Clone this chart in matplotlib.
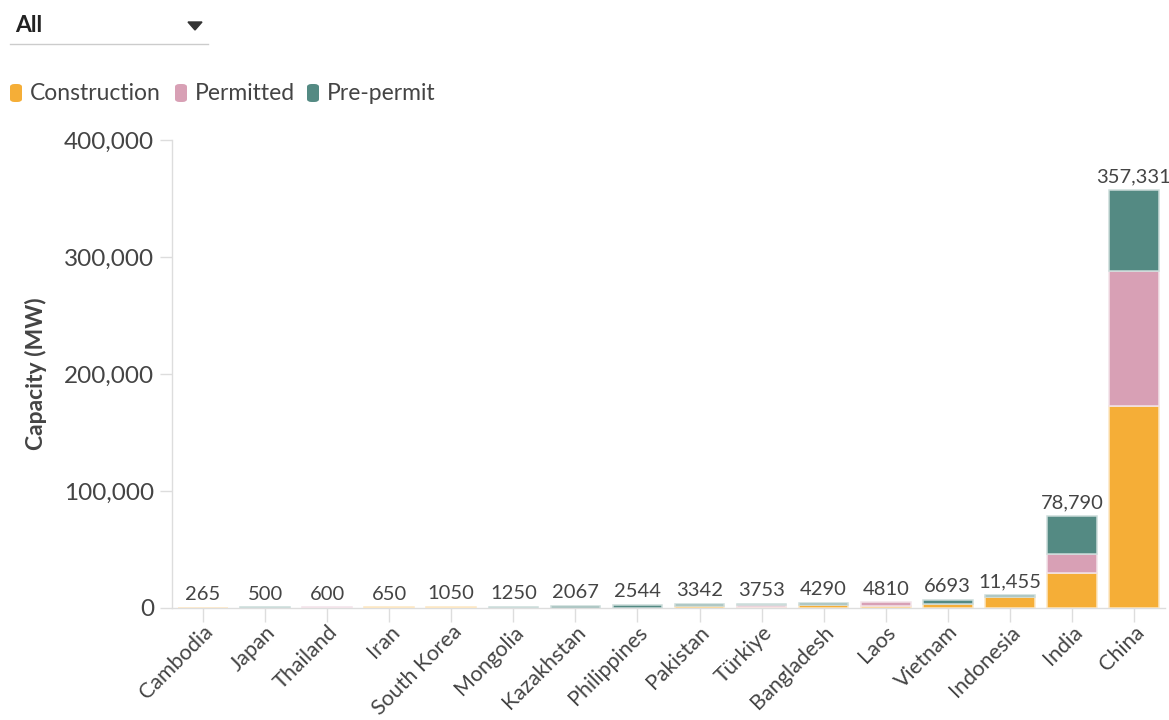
import matplotlib
matplotlib.use("Agg")
import matplotlib.pyplot as plt
from matplotlib.patches import FancyBboxPatch, Polygon
from matplotlib.ticker import FuncFormatter
from matplotlib.colors import to_rgb
import numpy as np

countries = ["Cambodia", "Japan", "Thailand", "Iran", "South Korea", "Mongolia",
             "Kazakhstan", "Philippines", "Pakistan", "Türkiye", "Bangladesh",
             "Laos", "Vietnam", "Indonesia", "India", "China"]
construction = [265, 0, 0, 650, 1050, 0, 0, 400, 1320, 600, 2640, 1400, 3000, 9100, 29600, 173000]
permitted = [0, 0, 600, 0, 0, 0, 0, 0, 0, 2000, 0, 3410, 0, 0, 16600, 115300]
prepermit = [0, 500, 0, 0, 0, 1250, 2067, 2144, 2022, 1153, 1650, 0, 3693, 2355, 32590, 69031]
totals = [265, 500, 600, 650, 1050, 1250, 2067, 2544, 3342, 3753, 4290, 4810, 6693, 11455, 78790, 357331]
series_names = ["Construction", "Permitted", "Pre-permit"]
y_ticks = [0, 100000, 200000, 300000, 400000]

colors = ["#F5AE37", "#D8A0B5", "#548A83"]
txt = "#444444"
grid = "#dddddd"
plt.rcParams['font.family'] = ['Lato', 'DejaVu Sans']


def tint(c, f=0.3):
    r = np.array(to_rgb(c))
    return tuple(r * f + (1 - f))


W, H = 1169, 720
fig = plt.figure(figsize=(W / 100, H / 100), dpi=100)
ax = fig.add_axes([172 / W, (H - 608) / H, (1165 - 172) / W, (608 - 140) / H])

x = np.arange(len(countries))
bottom = np.zeros(len(countries))
for vals, c, name in zip([construction, permitted, prepermit], colors, series_names):
    vals = np.array(vals, dtype=float)
    mask = vals > 0
    ax.bar(x[mask], vals[mask], bottom=bottom[mask], width=0.8, color=c,
           edgecolor=tint(c, 0.3), linewidth=1.1, label=name, zorder=3)
    bottom += vals

for xi, t in zip(x, totals):
    lab = f"{t:,}" if t >= 10000 else f"{t}"
    ax.text(xi, t + 4000, lab, ha="center", va="bottom", fontsize=14.5, color=txt)

ax.set_xlim(-0.5, 15.5)
ax.set_ylim(0, 400000)
ax.set_yticks(y_ticks)
ax.yaxis.set_major_formatter(FuncFormatter(lambda v, p: f"{int(v):,}"))
ax.set_xticks(x)
ax.set_xticklabels(countries, rotation=45, ha="right", rotation_mode="anchor",
                   fontsize=15.5, color=txt)
ax.tick_params(axis="y", labelsize=17.5, labelcolor=txt, color=grid, length=9, width=1, pad=4)
ax.tick_params(axis="x", color=grid, length=10, width=1, pad=0)
for s in ["top", "right"]:
    ax.spines[s].set_visible(False)
for s in ["left", "bottom"]:
    ax.spines[s].set_color(grid)
    ax.spines[s].set_linewidth(1)
ax.set_ylabel("Capacity (MW)", fontsize=16.5, fontweight="bold", color=txt, labelpad=12)

# dropdown
fig.text(15 / W, 1 - 25 / H, "All", fontsize=16.5, fontweight="bold", color="#222222", va="center")
fig.add_artist(plt.Line2D([10 / W, 208 / W], [1 - 44 / H, 1 - 44 / H], color="#cccccc", lw=1))
tri = Polygon([[188 / W, 1 - 22 / H], [202 / W, 1 - 22 / H], [195 / W, 1 - 30 / H]],
              closed=True, transform=fig.transFigure, color="#333333")
fig.add_artist(tri)

# legend
lx = [10, 175, 307]
for px, c, name in zip(lx, colors, series_names):
    box = FancyBboxPatch((px / W, 1 - 102 / H), 12 / W, 18 / H,
                         boxstyle="round,pad=0,rounding_size=0.004",
                         transform=fig.transFigure, facecolor=c, edgecolor="none")
    fig.add_artist(box)
    fig.text((px + 20) / W, 1 - 93 / H, name, fontsize=16.5, color=txt, va="center")

fig.savefig("out.png", dpi=100, facecolor="white")
